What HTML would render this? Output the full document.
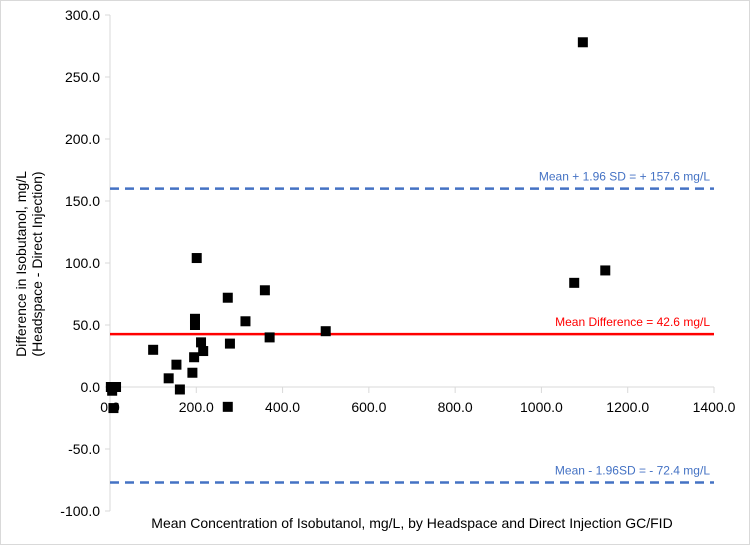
<!DOCTYPE html>
<html><head><meta charset="utf-8"><style>
html,body{margin:0;padding:0;background:#fff;}
svg{display:block;font-family:"Liberation Sans",Arial,sans-serif;}
</style></head><body>
<svg id="chart" width="750" height="545" viewBox="0 0 750 545">
<rect x="0.5" y="0.5" width="749" height="544" fill="#fff" stroke="#d9d9d9"/>
</svg>
<script>
const xVals=[2,5,14,8,100,136,154,162,191,195,197,197,201,211,216,273,278,273,314,359,370,500,1076,1148,1096];
const yVals=[0,-3,0,-17,30,7,18,-2,11.5,24,55,50,104,36,29,72,35,-16,53,78,40,45,84,94,278];
const xTicks=[0,200,400,600,800,1000,1200,1400];
const yTicks=[-100,-50,0,50,100,150,200,250,300];
const meanDiff=[42.6];
const upperLoA=[160];
const lowerLoA=[-77];
const L=110,R=714,T=15,B=511;
const sx=v=>L+(v-0)/(1400-0)*(R-L);
const sy=v=>B-(v+100)/(400)*(B-T);
const svg=document.getElementById('chart');
const NS='http://www.w3.org/2000/svg';
function mk(tag,attrs,parent){const e=document.createElementNS(NS,tag);for(const k in attrs)e.setAttribute(k,attrs[k]);(parent||svg).appendChild(e);return e;}
// y axis
let ya=mk('line',{x1:L,y1:T,x2:L,y2:B,stroke:'#d9d9d9','stroke-width':1});


yTicks.forEach(v=>{
 let t=mk('line',{x1:L-5,x2:L,y1:sy(v),y2:sy(v),stroke:'#d9d9d9'});
 
 
 let tx=mk('text',{x:L-10,y:sy(v)+5,'text-anchor':'end','font-size':14,fill:'#000'});
 tx.textContent=v.toFixed(1);
 
 
});
// x axis at y=0
let xa=mk('line',{x1:L,y1:sy(0),x2:R,y2:sy(0),stroke:'#d9d9d9'});


xTicks.forEach(v=>{
 let t=mk('line',{x1:sx(v),x2:sx(v),y1:sy(0),y2:sy(0)+6,stroke:'#d9d9d9'});
 
 
 let tx=mk('text',{x:sx(v),y:sy(0)+25,'text-anchor':'middle','font-size':14,fill:'#000'});
 tx.textContent=v.toFixed(1);
 
 
});
// reference lines
let ml=mk('line',{x1:L,x2:R,y1:sy(meanDiff[0]),y2:sy(meanDiff[0]),stroke:'#ff0000','stroke-width':2.5});


let ul=mk('line',{x1:L,x2:R,y1:sy(upperLoA[0]),y2:sy(upperLoA[0]),stroke:'#4472c4','stroke-width':2.5,'stroke-dasharray':'9,6'});


let ll=mk('line',{x1:L,x2:R,y1:sy(lowerLoA[0]),y2:sy(lowerLoA[0]),stroke:'#4472c4','stroke-width':2.5,'stroke-dasharray':'9,6'});


let t1=mk('text',{x:710,y:sy(meanDiff[0])-8,'text-anchor':'end','font-size':12,fill:'#ff0000'});
t1.textContent='Mean Difference = 42.6 mg/L';


let t2=mk('text',{x:710,y:sy(upperLoA[0])-8,'text-anchor':'end','font-size':12,fill:'#4472c4'});
t2.textContent='Mean + 1.96 SD = + 157.6 mg/L';


let t3=mk('text',{x:710,y:sy(lowerLoA[0])-8,'text-anchor':'end','font-size':12,fill:'#4472c4'});
t3.textContent='Mean - 1.96SD = - 72.4 mg/L';


// points
xVals.forEach((x,i)=>{
 let p=mk('rect',{x:sx(x)-5,y:sy(yVals[i])-5,width:10,height:10,fill:'#000'});
 
 
});
// titles
let xt=mk('text',{x:412,y:528,'text-anchor':'middle','font-size':14,fill:'#000'});
xt.textContent='Mean Concentration of Isobutanol, mg/L, by Headspace and Direct Injection GC/FID';


let yt=mk('text',{transform:'translate(26,264) rotate(-90)','text-anchor':'middle','font-size':14,fill:'#000'});


let s1=mk('tspan',{x:0,dy:0},yt);s1.textContent='Difference in Isobutanol, mg/L';
let s2=mk('tspan',{x:0,dy:16},yt);s2.textContent='(Headspace - Direct Injection)';
</script>
</body></html>
